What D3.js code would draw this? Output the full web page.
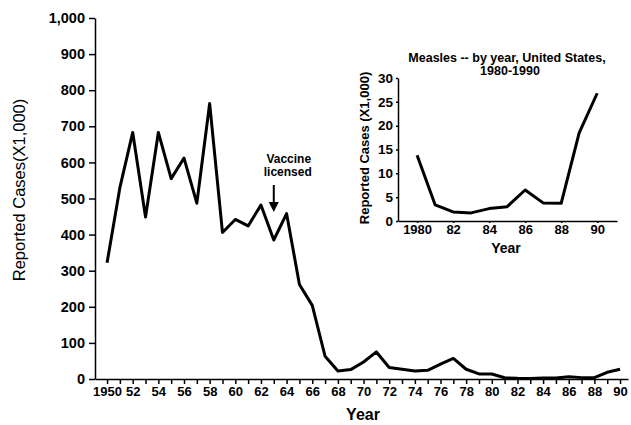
<!DOCTYPE html>
<html>
<head>
<meta charset="utf-8">
<script src="https://cdn.jsdelivr.net/npm/d3@7"></script>
<style>
  body { margin: 0; background: #fff; }
  text { font-family: "Liberation Sans", Arial, sans-serif; fill: #000; }
  .axis path, .axis line { stroke: #000; stroke-width: 1.5; }
  .axis text { font-weight: bold; }
</style>
</head>
<body>
<div id="chartArea"></div>
<script>
// reported measles cases, thousands
var years = d3.range(1950, 1991);
var cases = [322, 530, 683, 449, 683, 555, 612, 487, 763, 406,
             442, 424, 482, 385, 458, 262, 204, 63, 22, 26,
             47, 75, 32, 27, 22, 24, 41, 57, 27, 14,
             13.8, 3.4, 1.9, 1.7, 2.6, 3.0, 6.5, 3.8, 3.7, 18.5, 26.8];

var insetYears = d3.range(1980, 1991);
var insetCases = [13.8, 3.4, 1.9, 1.7, 2.6, 3.0, 6.5, 3.8, 3.7, 18.5, 26.8];

var yTicks = d3.range(0, 1001, 100);
var insetYTicks = [0, 5, 10, 15, 20, 25, 30];
var insetXTicks = [1980, 1982, 1984, 1986, 1988, 1990];

var svg = d3.select("#chartArea").append("svg")
    .attr("width", 631)
    .attr("height", 425);

// main chart scales
var x = d3.scaleLinear().domain([1949.06, 1990.62]).range([95, 628]);
var y = d3.scaleLinear().domain([0, 1000]).range([379, 18]);

var yAxis = svg.append("g")
    .attr("class", "axis")
    .attr("transform", "translate(95,0)")
    .call(d3.axisLeft(y).tickValues(yTicks).tickFormat(d3.format(",")).tickSize(6).tickSizeOuter(0).tickPadding(4));
yAxis.selectAll("text").style("font-size", "14.5px");

var xAxis = svg.append("g")
    .attr("class", "axis")
    .attr("transform", "translate(0,379)")
    .call(d3.axisBottom(x).tickValues(years).tickSize(5).tickSizeOuter(0).tickPadding(3)
      .tickFormat(function(d) {
        if (d % 2) return "";
        return d == 1950 ? "1950" : String(d).slice(2);
      }));
xAxis.selectAll("text").style("font-size", "13px");

svg.append("text")
    .attr("transform", "translate(25,190) rotate(-90)")
    .attr("text-anchor", "middle")
    .style("font-size", "16.5px")
    .text("Reported Cases(X1,000)");

svg.append("text")
    .attr("x", 363)
    .attr("y", 420)
    .attr("text-anchor", "middle")
    .style("font-size", "16px")
    .style("font-weight", "bold")
    .text("Year");

var line = d3.line()
    .x(function(d, i) { return x(years[i]); })
    .y(function(d) { return y(d); });

svg.append("path")
    .datum(cases)
    .attr("d", line)
    .attr("fill", "none")
    .attr("stroke", "#000")
    .attr("stroke-width", 3)
    .attr("stroke-linejoin", "round");

// vaccine annotation
var vx = x(1963);
svg.append("text")
    .attr("x", vx + 15)
    .attr("y", 163)
    .attr("text-anchor", "middle")
    .style("font-size", "12px")
    .style("font-weight", "bold")
    .text("Vaccine");
svg.append("text")
    .attr("x", vx + 14)
    .attr("y", 176)
    .attr("text-anchor", "middle")
    .style("font-size", "12px")
    .style("font-weight", "bold")
    .text("licensed");
svg.append("line")
    .attr("x1", vx).attr("x2", vx)
    .attr("y1", 185).attr("y2", 204)
    .attr("stroke", "#000")
    .attr("stroke-width", 2);
svg.append("path")
    .attr("d", "M" + (vx - 5) + ",202 L" + (vx + 5) + ",202 L" + vx + ",212 Z")
    .attr("fill", "#000");

// inset chart
var ix = d3.scaleLinear().domain([1978.94, 1991.1]).range([398, 617]);
var iy = d3.scaleLinear().domain([0, 30]).range([221, 78]);

var iyAxis = svg.append("g")
    .attr("class", "axis")
    .attr("transform", "translate(398,0)")
    .call(d3.axisLeft(iy).tickValues(insetYTicks).tickSize(2).tickSizeOuter(0).tickPadding(3));
iyAxis.selectAll("text").style("font-size", "13.5px");

var ixAxis = svg.append("g")
    .attr("class", "axis")
    .attr("transform", "translate(0,221)")
    .call(d3.axisBottom(ix).tickValues(insetXTicks).tickSize(2).tickSizeOuter(0).tickPadding(2)
      .tickFormat(function(d) { return d == 1980 ? "1980" : String(d).slice(2); }));
ixAxis.selectAll("text").style("font-size", "13px");

svg.append("text")
    .attr("transform", "translate(369,148) rotate(-90)")
    .attr("text-anchor", "middle")
    .style("font-size", "13px")
    .style("font-weight", "bold")
    .text("Reported Cases (X1,000)");

svg.append("text")
    .attr("x", 506)
    .attr("y", 253)
    .attr("text-anchor", "middle")
    .style("font-size", "14px")
    .style("font-weight", "bold")
    .text("Year");

svg.append("text")
    .attr("x", 507)
    .attr("y", 62)
    .attr("text-anchor", "middle")
    .style("font-size", "12.5px")
    .style("font-weight", "bold")
    .text("Measles -- by year, United States,");
svg.append("text")
    .attr("x", 510)
    .attr("y", 75)
    .attr("text-anchor", "middle")
    .style("font-size", "12.5px")
    .style("font-weight", "bold")
    .text("1980-1990");

var iline = d3.line()
    .x(function(d, i) { return ix(insetYears[i]); })
    .y(function(d) { return iy(d); });

svg.append("path")
    .datum(insetCases)
    .attr("d", iline)
    .attr("fill", "none")
    .attr("stroke", "#000")
    .attr("stroke-width", 3)
    .attr("stroke-linejoin", "round");
</script>
</body>
</html>
